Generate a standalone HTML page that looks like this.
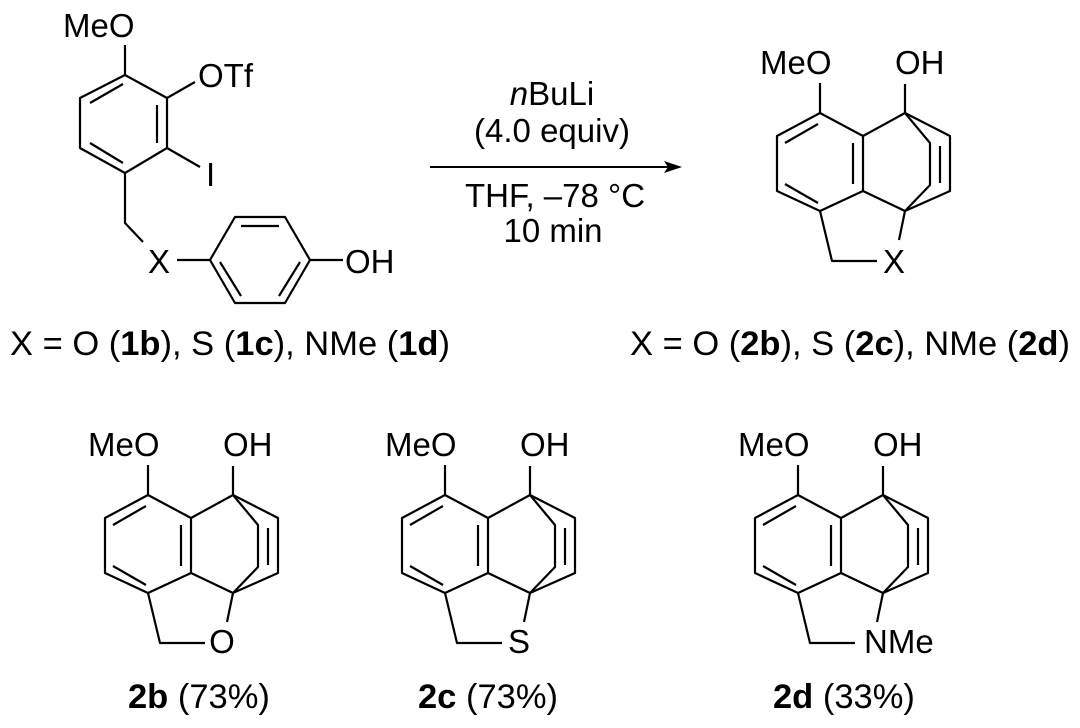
<!DOCTYPE html>
<html><head><meta charset="utf-8"><style>
html,body{margin:0;padding:0;background:#fff;}
svg{display:block;}
text{font-family:"Liberation Sans",Arial,sans-serif;fill:#000;}
</style></head><body>
<svg width="1080" height="728" viewBox="0 0 1080 728" xmlns="http://www.w3.org/2000/svg">
<defs>
<g id="core" fill="none" stroke="#000" stroke-width="2.2" stroke-linejoin="round">
  <path d="M148,465 L148,495"/>
  <path d="M148,495 L191,518 L191,573 L148,593 L105,573 L105,518 Z"/>
  <path d="M113,525 L146,506 M181,525 L181,566 M113,566 L146,585"/>
  <path d="M191,518 L233,495 M191,573 L233,593 M233,466 L233,495"/>
  <path d="M233,495 L258,525 L258,567 L233,593"/>
  <path d="M233,495 L278,518 L278,573 L233,593"/>
  <path d="M268,528 L268,565"/>
  <path d="M148,593 L160,643 L205,643 M233,593 L227,622"/>
</g>
</defs>

<!-- Starting material -->
<g fill="none" stroke="#000" stroke-width="2.2" stroke-linejoin="round">
  <path d="M125,45 L125,75"/>
  <path d="M125,75 L167,98 L167,148 L125,173 L80,148 L80,98 Z"/>
  <path d="M90,103 L123,84 M157,105 L157,143 M90,143 L123,163"/>
  <path d="M167,98 L195,82 M167,148 L200,167"/>
  <path d="M125,173 L125,223 L143,242"/>
  <path d="M177,260 L210,260"/>
  <path d="M210,260 L235,217 L285,217 L310,260 L285,303 L235,303 Z"/>
  <path d="M241,226 L279,226 M220,262 L241,296 M300,262 L279,296"/>
  <path d="M310,260 L343,260"/>
</g>
<text x="63" y="37" font-size="33">MeO</text>
<text x="198" y="87" font-size="33">OTf</text>
<text x="206" y="186" font-size="33">I</text>
<text x="148" y="273" font-size="33">X</text>
<text x="345" y="273" font-size="33">OH</text>
<text x="10" y="355" font-size="34.5">X = O (<tspan font-weight="bold">1b</tspan>), S (<tspan font-weight="bold">1c</tspan>), NMe (<tspan font-weight="bold">1d</tspan>)</text>

<!-- Arrow -->
<line x1="430" y1="167" x2="672" y2="167" stroke="#000" stroke-width="2"/>
<path d="M682,167 L664,161 L668,167 L664,173 Z" fill="#000"/>
<text x="552" y="105" font-size="33" text-anchor="middle"><tspan font-style="italic">n</tspan>BuLi</text>
<text x="552" y="142" font-size="33" text-anchor="middle">(4.0 equiv)</text>
<text x="555" y="207" font-size="33" text-anchor="middle">THF, –78 °C</text>
<text x="553" y="242" font-size="33" text-anchor="middle">10 min</text>

<!-- Product top -->
<g transform="translate(672,-382)">
  <use href="#core"/>
  <text x="88" y="456" font-size="33">MeO</text>
  <text x="223" y="456" font-size="33">OH</text>
  <text x="222" y="655" font-size="33" text-anchor="middle">X</text>
</g>
<text x="630" y="355" font-size="34.5">X = O (<tspan font-weight="bold">2b</tspan>), S (<tspan font-weight="bold">2c</tspan>), NMe (<tspan font-weight="bold">2d</tspan>)</text>

<!-- 2b -->
<g>
  <use href="#core"/>
  <text x="88" y="456" font-size="33">MeO</text>
  <text x="223" y="456" font-size="33">OH</text>
  <text x="222" y="653" font-size="33" text-anchor="middle">O</text>
  <text x="128" y="708" font-size="34.5"><tspan font-weight="bold">2b</tspan> (73%)</text>
</g>
<!-- 2c -->
<g transform="translate(297,0)">
  <use href="#core"/>
  <text x="88" y="456" font-size="33">MeO</text>
  <text x="223" y="456" font-size="33">OH</text>
  <text x="222" y="653" font-size="33" text-anchor="middle">S</text>
  <text x="121" y="708" font-size="34.5"><tspan font-weight="bold">2c</tspan> (73%)</text>
</g>
<!-- 2d -->
<g transform="translate(650,0)">
  <use href="#core"/>
  <text x="88" y="456" font-size="33">MeO</text>
  <text x="223" y="456" font-size="33">OH</text>
  <text x="214" y="653" font-size="33">NMe</text>
  <text x="123" y="708" font-size="34.5"><tspan font-weight="bold">2d</tspan> (33%)</text>
</g>
</svg>
</body></html>
